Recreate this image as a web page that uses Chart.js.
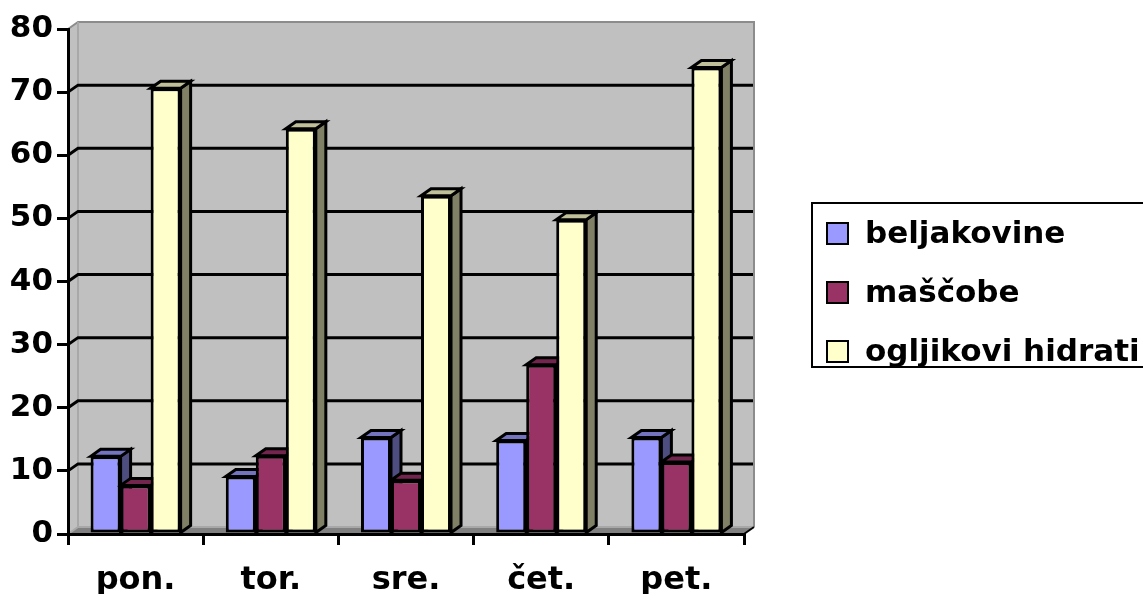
<!DOCTYPE html>
<html>
<head>
<meta charset="utf-8">
<title>beljakovine, maščobe, ogljikovi hidrati</title>
<script src="https://cdn.jsdelivr.net/npm/chart.js@4.4.1/dist/chart.umd.min.js"></script>
<style>
  html, body { margin: 0; padding: 0; background: #ffffff; }
  #wrap { width: 1143px; height: 594px; position: relative; }
</style>
</head>
<body>
<div id="wrap"><canvas id="chart"></canvas></div>
<script>
// Days of the week
const days = ['pon.', 'tor.', 'sre.', 'čet.', 'pet.'];
// Daily intake per nutrient group
const beljakovine = [12.3, 9.1, 15.3, 14.8, 15.3];
const mascobe = [7.7, 12.4, 8.5, 26.8, 11.4];
const ogljikoviHidrati = [70.6, 64.2, 53.6, 49.8, 73.9];
// Value axis ticks
const yTicks = [0, 10, 20, 30, 40, 50, 60, 70, 80];

const seriesNames = ['beljakovine', 'maščobe', 'ogljikovi hidrati'];
const seriesColors = ['#9999FF', '#993366', '#FFFFCC'];
const seriesTops = ['#7373BF', '#73264D', '#BFBF99'];
const seriesSides = ['#4D4D80', '#4D1A33', '#808066'];

// depth of the pseudo-3D projection
const DX = 10, DY = -7;
const LINE = 3;

// Back wall, side wall, floor and gridlines
const wallsPlugin = {
  id: 'walls',
  beforeDraw(chart) {
    const ctx = chart.ctx;
    const y = chart.scales.y;
    const L = chart.chartArea.left, R = chart.chartArea.right;
    const T = y.getPixelForValue(yTicks[yTicks.length - 1]);
    const B = y.getPixelForValue(yTicks[0]);
    ctx.save();
    // side wall
    ctx.fillStyle = '#C0C0C0';
    ctx.beginPath();
    ctx.moveTo(L, T); ctx.lineTo(L + DX, T + DY); ctx.lineTo(L + DX, B + DY); ctx.lineTo(L, B);
    ctx.closePath(); ctx.fill();
    // back wall
    ctx.fillRect(L + DX, T + DY, R - L, B - T);
    // floor
    ctx.fillStyle = '#808080';
    ctx.beginPath();
    ctx.moveTo(L, B); ctx.lineTo(L + DX, B + DY); ctx.lineTo(R + DX, B + DY); ctx.lineTo(R, B);
    ctx.closePath(); ctx.fill();
    // wall edges
    ctx.strokeStyle = '#8C8C8C';
    ctx.lineWidth = 2;
    ctx.beginPath();
    ctx.moveTo(L, T); ctx.lineTo(L + DX, T + DY); ctx.lineTo(R + DX, T + DY); ctx.lineTo(R + DX, B + DY);
    ctx.stroke();
    ctx.strokeStyle = '#A8A8A8';
    ctx.beginPath();
    ctx.moveTo(L + DX, T + DY); ctx.lineTo(L + DX, B + DY); ctx.lineTo(R + DX, B + DY);
    ctx.moveTo(L, B); ctx.lineTo(L + DX, B + DY);
    ctx.stroke();
    // gridlines across side and back walls
    ctx.strokeStyle = '#000000';
    ctx.lineWidth = LINE;
    yTicks.slice(1, -1).forEach(v => {
      const py = y.getPixelForValue(v);
      ctx.beginPath();
      ctx.moveTo(L, py); ctx.lineTo(L + DX, py + DY); ctx.lineTo(R + DX - 1, py + DY);
      ctx.stroke();
    });
    // floor right edge
    ctx.lineWidth = 2;
    ctx.beginPath();
    ctx.moveTo(R, B); ctx.lineTo(R + DX, B + DY);
    ctx.stroke();
    ctx.restore();
  }
};

// Top and side faces of each column
const depthPlugin = {
  id: 'depth',
  beforeDatasetsDraw(chart) {
    const ctx = chart.ctx;
    ctx.save();
    ctx.lineWidth = LINE;
    ctx.strokeStyle = '#000000';
    ctx.lineJoin = 'miter';
    chart.data.datasets.forEach((ds, di) => {
      const meta = chart.getDatasetMeta(di);
      meta.data.forEach(el => {
        const p = el.getProps(['x', 'y', 'base', 'width'], true);
        const l = p.x - p.width / 2, r = p.x + p.width / 2;
        // side
        ctx.fillStyle = seriesSides[di];
        ctx.beginPath();
        ctx.moveTo(r, p.y); ctx.lineTo(r + DX, p.y + DY); ctx.lineTo(r + DX, p.base + DY); ctx.lineTo(r, p.base);
        ctx.closePath(); ctx.fill(); ctx.stroke();
        // top
        ctx.fillStyle = seriesTops[di];
        ctx.beginPath();
        ctx.moveTo(l, p.y); ctx.lineTo(l + DX, p.y + DY); ctx.lineTo(r + DX, p.y + DY); ctx.lineTo(r, p.y);
        ctx.closePath(); ctx.fill(); ctx.stroke();
      });
    });
    ctx.restore();
  }
};

// Framed legend at the right
const legendPlugin = {
  id: 'boxLegend',
  afterDraw(chart) {
    const ctx = chart.ctx;
    const left = 812, top = 203, w = 345, h = 164;
    const rowY = [234, 293, 352];
    ctx.save();
    ctx.strokeStyle = '#000000';
    ctx.lineWidth = 2;
    ctx.strokeRect(left, top, w, h);
    ctx.font = 'bold 31px "DejaVu Sans"';
    ctx.textBaseline = 'middle';
    ctx.textAlign = 'left';
    chart.data.datasets.forEach((ds, i) => {
      const cy = rowY[i];
      ctx.fillStyle = ds.backgroundColor;
      ctx.fillRect(827, cy - 11, 21, 21);
      ctx.lineWidth = 2;
      ctx.strokeRect(827, cy - 11, 21, 21);
      ctx.fillStyle = '#000000';
      ctx.fillText(ds.label, 865, cy + 1);
    });
    ctx.restore();
  }
};

const values = [beljakovine, mascobe, ogljikoviHidrati];

new Chart(document.getElementById('chart'), {
  type: 'bar',
  data: {
    labels: days,
    datasets: values.map((v, i) => ({
      label: seriesNames[i],
      data: v,
      backgroundColor: seriesColors[i],
      borderColor: '#000000',
      borderWidth: LINE,
      borderSkipped: false,
      categoryPercentage: 0.666,
      barPercentage: 1.0
    }))
  },
  options: {
    responsive: true,
    maintainAspectRatio: false,
    animation: false,
    layout: { padding: { top: 29, right: 399, left: 0, bottom: 0 } },
    plugins: { legend: { display: false }, tooltip: { enabled: false } },
    scales: {
      x: {
        grid: { offset: true, drawOnChartArea: false, drawTicks: true, tickLength: 11, color: '#000000', lineWidth: LINE },
        border: { display: true, color: '#000000', width: LINE },
        ticks: { color: '#000000', font: { family: '"DejaVu Sans"', size: 32, weight: 'bold' }, padding: 16 },
        afterFit(scale) { scale.height = 60; }
      },
      y: {
        min: 0, max: 80,
        afterBuildTicks(scale) { scale.ticks = yTicks.map(v => ({ value: v })); },
        grid: { drawOnChartArea: false, drawTicks: true, tickLength: 11, color: '#000000', lineWidth: LINE },
        border: { display: true, color: '#000000', width: LINE },
        ticks: { color: '#000000', font: { family: '"DejaVu Sans"', size: 31, weight: 'bold' }, padding: 4 },
        afterFit(scale) { scale.width = 68; }
      }
    }
  },
  plugins: [wallsPlugin, depthPlugin, legendPlugin]
});
</script>
</body>
</html>
